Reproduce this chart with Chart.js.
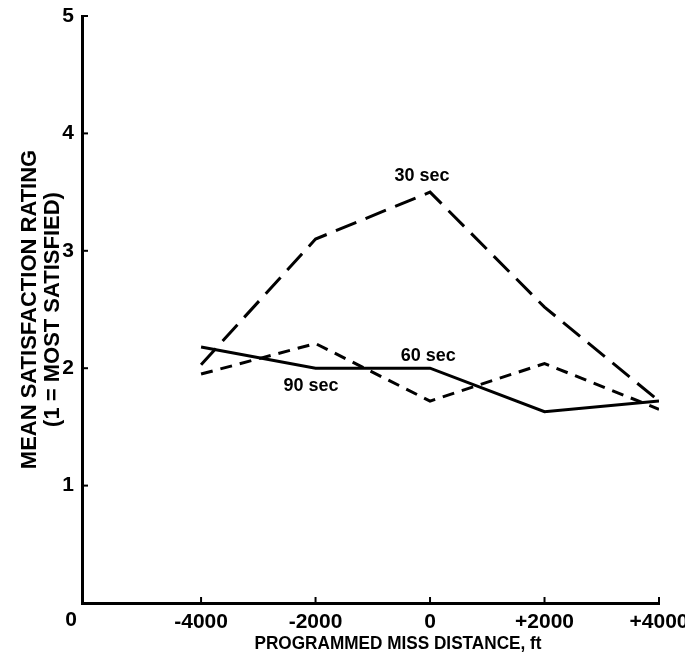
<!DOCTYPE html>
<html>
<head>
<meta charset="utf-8">
<script src="https://cdn.jsdelivr.net/npm/chart.js@4.4.1/dist/chart.umd.min.js"></script>
<style>
  body { margin: 0; background: #fff; }
</style>
</head>
<body>
<canvas id="myChart" width="685" height="655"></canvas>
<script>
// miss distance (ft) of each point
var distances = [-4000, -2000, 0, 2000, 4000];
// mean satisfaction ratings
var sec30 = [2.03, 3.10, 3.50, 2.52, 1.72];
var sec60 = [1.95, 2.21, 1.72, 2.04, 1.65];
var sec90 = [2.18, 2.00, 2.00, 1.63, 1.72];

var xTicks = [-4000, -2000, 0, 2000, 4000];
var xTickLabels = ["-4000", "-2000", "0", "+2000", "+4000"];
var yTicks = [1, 2, 3, 4, 5];

var seriesNames = ["30 sec", "60 sec", "90 sec"];
// where the in-plot labels sit, in data units
var labelSpots = [[-140, 3.64], [-30, 2.10], [-2080, 1.85]];

var FONT = '"Liberation Sans", Arial, sans-serif';
var X_MIN = -6080; // the plotted origin sits left of -4000

function points(values) {
    return values.map(function (v, i) { return { x: distances[i], y: v }; });
}

var decorations = {
    id: 'decorations',
    afterDraw: function (chart) {
        var ctx = chart.ctx;
        var x = chart.scales.x, y = chart.scales.y;
        ctx.save();
        ctx.strokeStyle = '#000';
        ctx.lineWidth = 2;
        // inward tick marks
        yTicks.forEach(function (v) {
            var py = y.getPixelForValue(v);
            ctx.beginPath();
            ctx.moveTo(x.left, py);
            ctx.lineTo(x.left + 6, py);
            ctx.stroke();
        });
        xTicks.forEach(function (v) {
            var px = x.getPixelForValue(v);
            ctx.beginPath();
            ctx.moveTo(px, y.bottom);
            ctx.lineTo(px, y.bottom - 6);
            ctx.stroke();
        });
        ctx.fillStyle = '#000';
        ctx.textAlign = 'center';
        ctx.textBaseline = 'middle';
        // origin label
        ctx.font = 'bold 21px ' + FONT;
        ctx.fillText('0', x.left - 11, y.bottom + 17);
        // series labels
        ctx.font = 'bold 18px ' + FONT;
        seriesNames.forEach(function (name, i) {
            ctx.fillText(name, x.getPixelForValue(labelSpots[i][0]), y.getPixelForValue(labelSpots[i][1]));
        });
        // x axis title
        ctx.font = 'bold 19px ' + FONT;
        ctx.fillText('PROGRAMMED MISS DISTANCE, ft', 398, 644, 287);
        ctx.restore();
    }
};

var ctxP = document.getElementById("myChart").getContext('2d');
var myChart = new Chart(ctxP, {
    type: 'line',
    data: {
        datasets: [{
            label: seriesNames[0],
            data: points(sec30),
            borderColor: '#000',
            borderWidth: 3,
            borderDash: [22, 10],
            pointRadius: 0,
            tension: 0
        }, {
            label: seriesNames[1],
            data: points(sec60),
            borderColor: '#000',
            borderWidth: 3,
            borderDash: [12, 8],
            pointRadius: 0,
            tension: 0
        }, {
            label: seriesNames[2],
            data: points(sec90),
            borderColor: '#000',
            borderWidth: 3,
            pointRadius: 0,
            tension: 0
        }]
    },
    options: {
        responsive: false,
        animation: false,
        layout: { padding: { left: 0, top: 16, right: 26, bottom: 0 } },
        plugins: {
            legend: { display: false },
            tooltip: { enabled: false }
        },
        scales: {
            x: {
                type: 'linear',
                min: X_MIN,
                max: 4000,
                grid: { display: false, drawTicks: false },
                border: { display: true, color: '#000', width: 3 },
                afterBuildTicks: function (scale) {
                    scale.ticks = [X_MIN].concat(xTicks).map(function (v) { return { value: v }; });
                },
                afterFit: function (scale) {
                    scale.height = 52;
                    scale.paddingLeft = 0;
                    scale.paddingRight = 0;
                },
                ticks: {
                    padding: 7,
                    color: '#000',
                    font: { family: FONT, size: 21, weight: 'bold' },
                    maxRotation: 0,
                    autoSkip: false,
                    callback: function (v) {
                        var i = xTicks.indexOf(v);
                        return i < 0 ? '' : xTickLabels[i];
                    }
                }
            },
            y: {
                min: 0,
                max: 5,
                grid: { display: false, drawTicks: false },
                border: { display: true, color: '#000', width: 3 },
                afterFit: function (scale) {
                    scale.width = 82;
                    scale.paddingTop = 0;
                    scale.paddingBottom = 0;
                },
                ticks: {
                    stepSize: 1,
                    padding: 8,
                    color: '#000',
                    font: { family: FONT, size: 21, weight: 'bold' },
                    callback: function (v) {
                        return yTicks.indexOf(v) < 0 ? '' : String(v);
                    }
                },
                title: {
                    display: true,
                    text: ['MEAN SATISFACTION RATING', '(1 = MOST SATISFIED)'],
                    color: '#000',
                    font: { family: FONT, size: 22, weight: 'bold', lineHeight: 1.05 },
                    padding: { top: 18, bottom: 0 }
                }
            }
        }
    },
    plugins: [decorations]
});
</script>
</body>
</html>
